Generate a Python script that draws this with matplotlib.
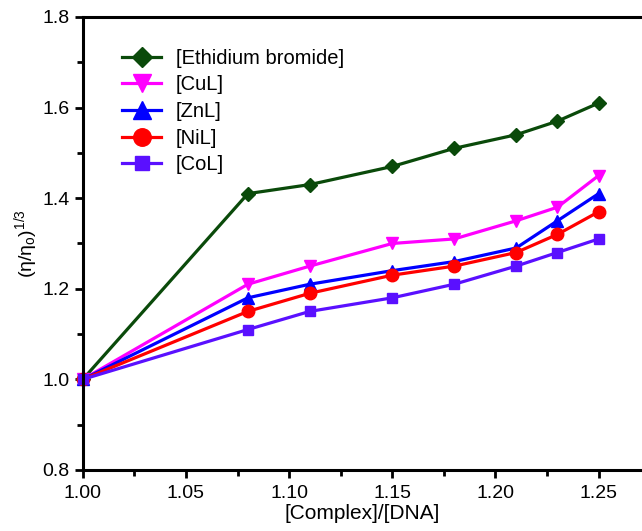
import numpy as np
import matplotlib.pyplot as plt
from matplotlib.ticker import MultipleLocator

plt.rcParams['font.family'] = ['Liberation Sans', 'DejaVu Sans']
plt.rcParams['mathtext.fontset'] = 'custom'
plt.rcParams['mathtext.rm'] = 'Liberation Sans'
plt.rcParams['mathtext.it'] = 'Liberation Sans:italic'

# ratio [Complex]/[DNA]
ratio = [1.00, 1.08, 1.11, 1.15, 1.18, 1.21, 1.23, 1.25]

eb = [1.00, 1.41, 1.43, 1.47, 1.51, 1.54, 1.57, 1.61]
cul = [1.00, 1.21, 1.25, 1.30, 1.31, 1.35, 1.38, 1.45]
znl = [1.00, 1.18, 1.21, 1.24, 1.26, 1.29, 1.35, 1.41]
nil = [1.00, 1.15, 1.19, 1.23, 1.25, 1.28, 1.32, 1.37]
col = [1.00, 1.11, 1.15, 1.18, 1.21, 1.25, 1.28, 1.31]

series = [
    ('[Ethidium bromide]', eb, '#0a4a0a', 'D', 7.5),
    ('[CuL]', cul, '#ff00ff', 'v', 9),
    ('[ZnL]', znl, '#0000ff', '^', 9),
    ('[NiL]', nil, '#ff0000', 'o', 9),
    ('[CoL]', col, '#5a10ff', 's', 7.5),
]

fig = plt.figure(figsize=(6.42, 5.31), dpi=100)
ax = fig.add_axes([0.129, 0.115, 0.871, 0.853])

for label, vals, color, mk, ms in series:
    ax.plot(ratio, vals, color=color, marker=mk, markersize=ms, linewidth=2.3,
            label=label, clip_on=False)

ax.set_xlim(1.0, 1.271)
ax.set_ylim(0.8, 1.8)
ax.xaxis.set_major_locator(MultipleLocator(0.05))
ax.xaxis.set_minor_locator(MultipleLocator(0.025))
ax.yaxis.set_major_locator(MultipleLocator(0.2))
ax.yaxis.set_minor_locator(MultipleLocator(0.1))
ax.xaxis.set_major_formatter(plt.FormatStrFormatter('%.2f'))
ax.yaxis.set_major_formatter(plt.FormatStrFormatter('%.1f'))

for s in ['left', 'bottom', 'top']:
    ax.spines[s].set_linewidth(2.2)
ax.spines['right'].set_visible(False)
ax.tick_params(which='major', direction='out', length=6, width=2, labelsize=14)
ax.tick_params(axis='x', which='major', pad=5)
ax.tick_params(which='minor', direction='out', length=4, width=2)
ax.tick_params(top=False, which='both')

ax.set_xlabel('[Complex]/[DNA]', fontsize=15, labelpad=1)
ax.set_ylabel(r'$\mathregular{(\eta/\eta_o)^{1/3}}$', fontsize=14, labelpad=2)

ax.legend(loc='upper left', bbox_to_anchor=(0.038, 0.97), frameon=False,
          fontsize=14.5, handlelength=1.95, labelspacing=0.38, handletextpad=0.7,
          markerscale=1.4)

fig.savefig('out.png', dpi=100)
